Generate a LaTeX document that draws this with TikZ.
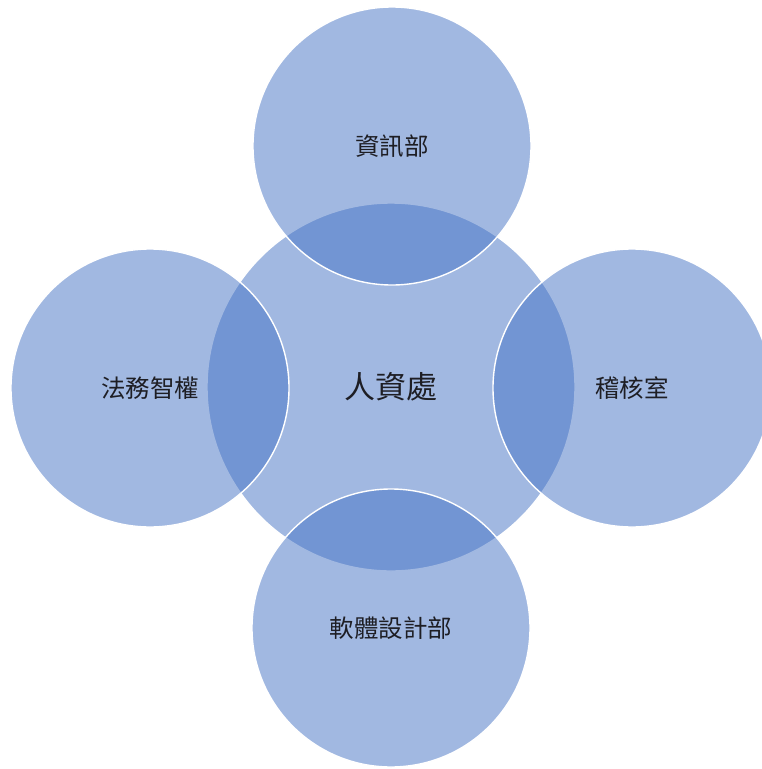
\documentclass[tikz,border=0pt]{standalone}
\usepackage{fontspec}
\setmainfont{Noto Sans CJK TC}
\definecolor{accent}{RGB}{68,114,196}
\definecolor{labeltext}{RGB}{30,30,36}
\begin{document}
\begin{tikzpicture}[x=1pt,y=-1pt]

      \useasboundingbox (0,0) rectangle (762,769);

      \begin{scope}[every node/.style={circle,draw=white,line width=1.4pt,
          fill=accent,fill opacity=.5,text opacity=1,text=labeltext,inner sep=0pt}]
        \node[minimum size=368pt,font=\fontsize{31}{34}\selectfont] (hr) at (391,387) {人資處};
        \node[minimum size=278pt,font=\fontsize{24.5}{28}\selectfont] (it)    at (392,146) {資訊部};
        \node[minimum size=278pt,font=\fontsize{24.5}{28}\selectfont] (legal) at (150,388) {法務智權};
        \node[minimum size=278pt,font=\fontsize{24.5}{28}\selectfont] (audit) at (632,388) {稽核室};
        \node[minimum size=278pt,font=\fontsize{24.5}{28}\selectfont] (sw)    at (391,628) {軟體設計部};
      \end{scope}

    \end{tikzpicture}
\end{document}
